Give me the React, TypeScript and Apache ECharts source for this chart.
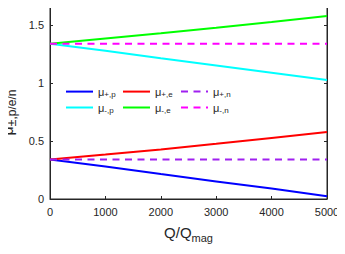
import React, { useEffect, useRef } from "react";
import * as echarts from "echarts";

const qValues = [0, 1000, 2000, 3000, 4000, 5000];
const muPlusP = [0.34, 0.28, 0.215, 0.152, 0.09, 0.024];
const muMinusP = [1.34, 1.28, 1.215, 1.152, 1.09, 1.026];
const muPlusE = [0.34, 0.383, 0.428, 0.477, 0.527, 0.578];
const muMinusE = [1.34, 1.385, 1.43, 1.478, 1.528, 1.58];
const muPlusN = [0.34, 0.34, 0.34, 0.34, 0.34, 0.34];
const muMinusN = [1.34, 1.34, 1.34, 1.34, 1.34, 1.34];
const xTicks = [0, 5000, 1000];
const yTicks = [0, 1.7, 0.5];

const seriesNames = ["μ+,p", "μ-,p", "μ+,e", "μ-,e", "μ+,n", "μ-,n"];
const seriesColors = ["#0000ff", "#00ffff", "#ff0000", "#00ff00", "#a020f0", "#ff00ff"];
const seriesValues = [muPlusP, muMinusP, muPlusE, muMinusE, muPlusN, muMinusN];
const legendCols = [
  ["μ+,p", "μ-,p"],
  ["μ+,e", "μ-,e"],
  ["μ+,n", "μ-,n"],
];
const legendLefts = [65, 122, 180];

const AXIS = "#262626";
const FONT = "Liberation Sans, Arial, Helvetica, sans-serif";

export default function App() {
  const ref = useRef<HTMLDivElement>(null);
  useEffect(() => {
    if (!ref.current) return;
    const chart = echarts.init(ref.current, undefined, { renderer: "svg" });
    const axisCommon = {
      axisLine: { show: true, onZero: false, lineStyle: { color: AXIS, width: 1 } },
      axisTick: { show: true, inside: true, length: 3, lineStyle: { color: AXIS } },
      splitLine: { show: false },
    };
    const xBase = { type: "value" as const, min: xTicks[0], max: xTicks[1], interval: xTicks[2] };
    const yBase = { type: "value" as const, min: yTicks[0], max: yTicks[1], interval: yTicks[2] };
    chart.setOption({
      animation: false,
      textStyle: { fontFamily: FONT },
      grid: {
        left: 50,
        right: 18,
        top: 2,
        bottom: 55,
        containLabel: false,
        outerBoundsMode: "none",
        show: true,
        borderColor: AXIS,
        borderWidth: 1,
        backgroundColor: "transparent",
      },
      xAxis: [
        {
          ...xBase,
          ...axisCommon,
          position: "bottom",
          axisLabel: {
            color: AXIS,
            fontSize: 11,
            margin: 7,
            fontFamily: FONT,
            formatter: (v: number) => String(v),
          },
          name: "{a|Q/Q}{b|mag}",
          nameLocation: "middle",
          nameGap: 22,
          nameTextStyle: {
            color: AXIS,
            rich: {
              a: { fontSize: 15, fontFamily: FONT, color: AXIS, verticalAlign: "middle", lineHeight: 22 },
              b: { fontSize: 11, fontFamily: FONT, color: AXIS, verticalAlign: "bottom", lineHeight: 22 },
            },
          },
        },
        { ...xBase, ...axisCommon, position: "top", axisLabel: { show: false } },
      ],
      yAxis: [
        {
          ...yBase,
          ...axisCommon,
          position: "left",
          axisLabel: {
            color: AXIS,
            fontSize: 11,
            margin: 6,
            fontFamily: FONT,
            showMaxLabel: false,
          },
          name: "{a|μ}{b|±,p/e/n}",
          nameLocation: "middle",
          nameRotate: 90,
          nameGap: 28,
          nameTextStyle: {
            color: AXIS,
            padding: [0, 24, 0, 0],
            rich: {
              a: { fontSize: 16, fontFamily: FONT, color: AXIS, verticalAlign: "middle", lineHeight: 21 },
              b: { fontSize: 12, fontFamily: FONT, color: AXIS, verticalAlign: "bottom", lineHeight: 21 },
            },
          },
        },
        { ...yBase, ...axisCommon, position: "right", axisLabel: { show: false } },
      ],
      legend: legendCols.map((names, i) => ({
        orient: "vertical",
        left: legendLefts[i],
        top: 86,
        padding: 0,
        itemWidth: 27,
        itemHeight: 14,
        itemGap: 3.3,
        data: names,
        itemStyle: { color: "rgba(0,0,0,0)", borderWidth: 0, opacity: 0 },
        formatter: (name: string) => `{m|μ}{s|${name.slice(1)}}`,
        textStyle: {
          color: AXIS,
          rich: {
            m: { fontSize: 11, fontFamily: FONT, color: AXIS, verticalAlign: "middle", lineHeight: 14 },
            s: { fontSize: 8, fontFamily: FONT, color: AXIS, verticalAlign: "bottom", lineHeight: 14 },
          },
        },
      })),
      series: seriesNames.map((name, i) => ({
        name,
        type: "line",
        xAxisIndex: 0,
        yAxisIndex: 0,
        symbol: "none",
        color: seriesColors[i],
        lineStyle: {
          color: seriesColors[i],
          width: 2,
          type: i >= 4 ? [7, 5.5] : "solid",
        },
        data: qValues.map((q, k) => [q, seriesValues[i][k]]),
      })),
    });
    return () => chart.dispose();
  }, []);
  return <div ref={ref} style={{ width: 345, height: 254, margin: -8 }} />;
}
